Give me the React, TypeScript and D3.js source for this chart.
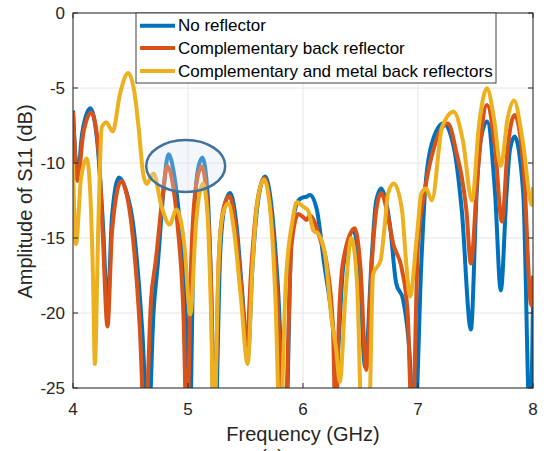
import React from "react";
import * as d3 from "d3";

type Pt = [number, number];

const seriesNames = [
  "No reflector",
  "Complementary back reflector",
  "Complementary and metal back reflectors",
];
const seriesColors = ["#0072BD", "#D95319", "#EDB120"];

const xTicks = [4, 5, 6, 7, 8];
const yTicks = [0, -5, -10, -15, -20, -25];

// [frequency GHz, S11 dB]
const noReflector: Pt[] = [
  [4.0, -6.5], [4.04, -10.8], [4.08, -8.0], [4.15, -6.35], [4.21, -8.5], [4.26, -14], [4.3, -19.7],
  [4.34, -13.5], [4.4, -10.96], [4.46, -11.8], [4.525, -14.2], [4.6, -20.9], [4.655, -28], [4.7, -20],
  [4.74, -16.5], [4.785, -12.0], [4.83, -9.42], [4.88, -10.8], [4.93, -14.2], [4.98, -20], [5.015, -28],
  [5.05, -14.5], [5.085, -10.5], [5.125, -9.64], [5.17, -12], [5.2, -18], [5.235, -28], [5.28, -16],
  [5.32, -12.8], [5.365, -12.0], [5.42, -14], [5.47, -18.5], [5.52, -22.9], [5.56, -17], [5.61, -12.5],
  [5.67, -10.9], [5.72, -12.5], [5.78, -18], [5.85, -28], [5.9, -14.7], [5.96, -12.5], [6.0, -12.3],
  [6.03, -12.25], [6.06, -12.13], [6.12, -13.1], [6.18, -16.5], [6.26, -20.9], [6.29, -23.4], [6.35, -16.9],
  [6.44, -14.5], [6.49, -17], [6.54, -23.6], [6.6, -16], [6.635, -12.6], [6.68, -11.7], [6.72, -12.5],
  [6.757, -14.2], [6.81, -18.0], [6.87, -19.1], [6.92, -22], [6.97, -28], [7.03, -16.5],
  [7.06, -12.0], [7.12, -8.7], [7.22, -7.36], [7.31, -8.9], [7.38, -13.1], [7.46, -21.1], [7.51, -12],
  [7.54, -8.7], [7.6, -7.24], [7.67, -12], [7.72, -18.5], [7.77, -12], [7.8, -9.1], [7.84, -8.24],
  [7.915, -12], [7.975, -28], [8.0, -19.3],
];

const backReflector: Pt[] = [
  [4.0, -6.6], [4.04, -11.2], [4.09, -8.0], [4.16, -6.64], [4.22, -9], [4.26, -15], [4.3, -20.9],
  [4.34, -14.5], [4.42, -11.2], [4.47, -12.2], [4.51, -14.2], [4.58, -20.9], [4.625, -28], [4.68, -19],
  [4.72, -16.5], [4.775, -12.5], [4.82, -10.2], [4.87, -11.5], [4.91, -14.2], [4.96, -20], [4.99, -28],
  [5.03, -16], [5.07, -11.5], [5.12, -10.24], [5.165, -12.5], [5.2, -18], [5.225, -28], [5.27, -16],
  [5.31, -13], [5.36, -12.2], [5.41, -14], [5.46, -18], [5.51, -22], [5.55, -17], [5.6, -12.7],
  [5.665, -11.0], [5.71, -12.5], [5.77, -18], [5.84, -28], [5.9, -15.5], [5.96, -13.4], [6.0, -13.6],
  [6.03, -13.8], [6.06, -13.5], [6.15, -15.1], [6.21, -16.9], [6.26, -20.9], [6.285, -28], [6.31, -21],
  [6.35, -16.5], [6.45, -14.35], [6.5, -17], [6.55, -23.8], [6.6, -16.5], [6.64, -13], [6.68, -12.0],
  [6.73, -13.2], [6.785, -15.4], [6.86, -17.1], [6.91, -20], [6.95, -28], [7.0, -15.4], [7.06, -11.8],
  [7.15, -8.7], [7.26, -7.36], [7.34, -9.5], [7.38, -10.9], [7.42, -13.1], [7.46, -16.7], [7.52, -10.5],
  [7.6, -6.13], [7.67, -9], [7.73, -13.9], [7.78, -9], [7.84, -6.8], [7.92, -10.5], [7.985, -19.5],
  [8.0, -17.5],
];

const metalReflectors: Pt[] = [
  [4.0, -10.0], [4.026, -15.4], [4.07, -11], [4.12, -9.7], [4.15, -12], [4.175, -18], [4.19, -23.4],
  [4.22, -14.2], [4.25, -7.6], [4.29, -7.3], [4.345, -7.9], [4.41, -5.35], [4.48, -4.0], [4.54, -5.6],
  [4.57, -7.6], [4.61, -10.7], [4.64, -11.4], [4.7, -10.7], [4.77, -12.9], [4.84, -14.1], [4.9, -13.1],
  [4.97, -15.6], [5.02, -20.1], [5.07, -14], [5.13, -11.36], [5.17, -13.5], [5.2, -20], [5.225, -28],
  [5.265, -17], [5.3, -13.5], [5.35, -12.7], [5.4, -14.5], [5.46, -19], [5.519, -23.4], [5.56, -17],
  [5.6, -12.8], [5.66, -11.1], [5.71, -12.8], [5.76, -19], [5.8, -28], [5.85, -18], [5.91, -13.8],
  [5.945, -12.6], [6.0, -12.9], [6.046, -13.2], [6.09, -14.5], [6.13, -14.7], [6.19, -16.0], [6.25, -20.5],
  [6.29, -22.5], [6.32, -24.6], [6.37, -18.7], [6.42, -15.0], [6.47, -18], [6.515, -28], [6.57, -28],
  [6.61, -17.4], [6.675, -16.5], [6.71, -14.2], [6.74, -12.0], [6.79, -11.36], [6.86, -13.1],
  [6.9, -16.9], [6.93, -18.9], [6.99, -14.9], [7.03, -12.0], [7.07, -11.7], [7.12, -12.5], [7.21, -7.6],
  [7.31, -6.58], [7.39, -8.5], [7.47, -12.5], [7.53, -7.5], [7.6, -5.02], [7.66, -7], [7.72, -10.2],
  [7.78, -7], [7.835, -5.84], [7.91, -8.5], [7.99, -12.8], [8.0, -11.6],
];

const allSeries = [noReflector, backReflector, metalReflectors];

const W = 547;
const H = 451;
const left = 73;
const right = 533;
const top = 13;
const bottom = 388;
const font = "'Liberation Sans', Arial, Helvetica, sans-serif";
const axisColor = "#262626";

export default function App() {
  const x = d3.scaleLinear().domain([4, 8]).range([left, right]);
  const y = d3.scaleLinear().domain([-25, 0]).range([bottom, top]);
  const line = d3
    .line<Pt>()
    .x((d) => x(d[0]))
    .y((d) => y(d[1]))
    .curve(d3.curveMonotoneX);

  const legendX = 136;
  const legendY = 13;
  const legendW = 360;
  const legendH = 70;
  const rowY = [25.7, 48, 71];

  return (
    <svg
      width={W}
      height={H}
      style={{ position: "absolute", left: 0, top: 0, background: "#fff" }}
      fontFamily={font}
    >
      <defs>
        <clipPath id="plotClip">
          <rect x={left} y={top} width={right - left} height={bottom - top} />
        </clipPath>
      </defs>
      <rect x={0} y={0} width={W} height={H} fill="#fff" />
      {/* grid */}
      {xTicks.map((t) => (
        <line key={"gx" + t} x1={x(t)} x2={x(t)} y1={top} y2={bottom} stroke="#e6e6e6" strokeWidth={1} />
      ))}
      {yTicks.map((t) => (
        <line key={"gy" + t} x1={left} x2={right} y1={y(t)} y2={y(t)} stroke="#e6e6e6" strokeWidth={1} />
      ))}
      {/* series */}
      <g clipPath="url(#plotClip)">
        {allSeries.map((s, i) => (
          <path
            key={i}
            d={line(s) || ""}
            fill="none"
            stroke={seriesColors[i]}
            strokeWidth={4}
            strokeLinejoin="round"
          />
        ))}
        <ellipse
          cx={x(4.98)}
          cy={y(-10.2)}
          rx={39.5}
          ry={26}
          fill="#d6e4f3"
          fillOpacity={0.3}
          stroke="#41719c"
          strokeWidth={2.5}
        />
      </g>
      {/* axes box */}
      <rect x={left} y={top} width={right - left} height={bottom - top} fill="none" stroke={axisColor} strokeWidth={1} />
      {xTicks.map((t) => (
        <g key={"tx" + t}>
          <line x1={x(t)} x2={x(t)} y1={bottom} y2={bottom - 5} stroke={axisColor} />
          <line x1={x(t)} x2={x(t)} y1={top} y2={top + 5} stroke={axisColor} />
          <text x={x(t)} y={415} textAnchor="middle" fontSize={17} fill={axisColor}>
            {t}
          </text>
        </g>
      ))}
      {yTicks.map((t) => (
        <g key={"ty" + t}>
          <line x1={left} x2={left + 5} y1={y(t)} y2={y(t)} stroke={axisColor} />
          <line x1={right} x2={right - 5} y1={y(t)} y2={y(t)} stroke={axisColor} />
          <text x={65} y={y(t)} textAnchor="end" dominantBaseline="central" fontSize={17} fill={axisColor}>
            {t}
          </text>
        </g>
      ))}
      <text x={(left + right) / 2} y={441} textAnchor="middle" fontSize={20} fill={axisColor}>
        Frequency (GHz)
      </text>
      <text
        transform={`translate(25,201.5) rotate(-90)`}
        textAnchor="middle"
        dominantBaseline="central"
        fontSize={20}
        fill={axisColor}
      >
        Amplitude of S11 (dB)
      </text>
      <text x={272} y={462} textAnchor="middle" fontSize={19} fill={axisColor}>
        (a)
      </text>
      {/* legend */}
      <rect x={legendX} y={legendY} width={legendW} height={legendH} fill="#fff" stroke="#404040" strokeWidth={1} />
      {seriesNames.map((n, i) => (
        <g key={n}>
          <line x1={140} x2={175} y1={rowY[i]} y2={rowY[i]} stroke={seriesColors[i]} strokeWidth={4} />
          <text x={178} y={rowY[i]} dominantBaseline="central" fontSize={17} fill="#000">
            {n}
          </text>
        </g>
      ))}
    </svg>
  );
}
